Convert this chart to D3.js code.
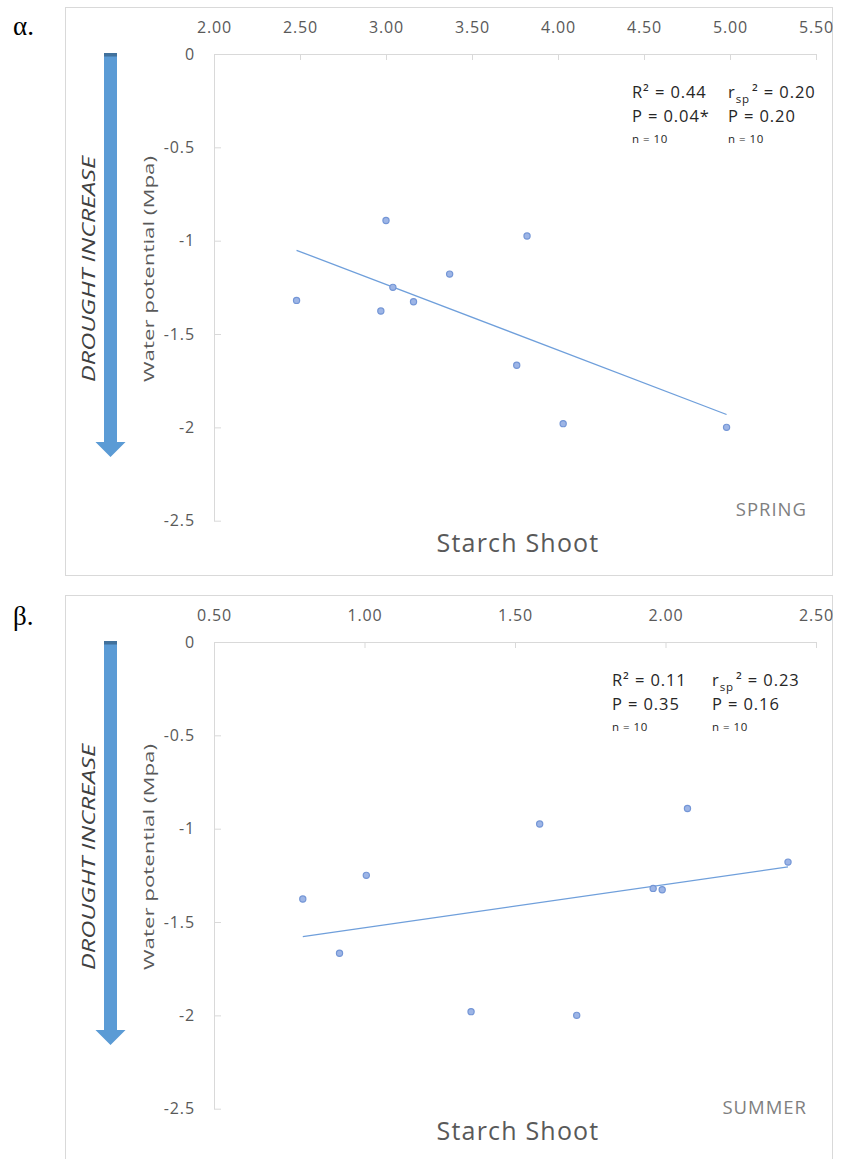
<!DOCTYPE html>
<html><head><meta charset="utf-8">
<script src="https://cdn.jsdelivr.net/npm/d3@7"></script>
<style>body{margin:0;background:#fff} svg{display:block}</style>
</head><body>
<svg id="chart" width="845" height="1159"></svg>
<script>
// Shoot starch vs. midday water potential, spring and summer
const springStarch    = [2.48, 3.00, 2.97, 3.04, 3.16, 3.37, 3.82, 3.76, 4.03, 4.98];
const springPotential = [-1.32, -0.892, -1.377, -1.25, -1.327, -1.179, -0.975, -1.667, -1.98, -2.00];
const summerStarch    = [0.795, 0.917, 1.006, 1.354, 1.582, 1.705, 1.959, 1.989, 2.073, 2.407];
const summerPotential = [-1.377, -1.667, -1.25, -1.98, -0.975, -2.00, -1.32, -1.327, -0.892, -1.179];

const springXTicks = [2.0, 2.5, 3.0, 3.5, 4.0, 4.5, 5.0, 5.5];
const summerXTicks = [0.5, 1.0, 1.5, 2.0, 2.5];
const yTicks = [0, -0.5, -1, -1.5, -2, -2.5];

// Pearson R², P, n  and  Spearman r², P, n
const springPearson  = ["0.44", "0.04*", "10"];
const springSpearman = ["0.20", "0.20", "10"];
const summerPearson  = ["0.11", "0.35", "10"];
const summerSpearman = ["0.23", "0.16", "10"];

const panelLetters = ["α.", "β."];
const seasons = ["SPRING", "SUMMER"];

const svg = d3.select("#chart");
const FONT = "'Open Sans', sans-serif";
const GREY = "#595959";
const AXIS = "#d9d9d9";
const BLUE = "#5b9bd5";

const panels = [
  { top: 54, frameTop: 7.5, frameBottom: 575.5, xs: springStarch, ys: springPotential,
    xTicks: springXTicks, pear: springPearson, spear: springSpearman,
    col1: 632, col2: 728, letter: panelLetters[0], letterY: 35,
    season: seasons[0], seasonY: 461.5 },
  { top: 642, frameTop: 595.5, frameBottom: 1170, xs: summerStarch, ys: summerPotential,
    xTicks: summerXTicks, pear: summerPearson, spear: summerSpearman,
    col1: 612, col2: 712, letter: panelLetters[1], letterY: 625,
    season: seasons[1], seasonY: 472 }
];

const LEFT = 214, RIGHT = 816, PLOT_H = 466.7;

panels.forEach(p => {
  const g = svg.append("g");

  // chart frame
  g.append("rect")
    .attr("x", 65.5).attr("y", p.frameTop)
    .attr("width", 767).attr("height", p.frameBottom - p.frameTop)
    .attr("fill", "none").attr("stroke", AXIS).attr("stroke-width", 1);

  // panel letter
  g.append("text").attr("x", 13).attr("y", p.letterY)
    .attr("font-family", "Liberation Serif, serif").attr("font-size", 27)
    .attr("fill", "#000").text(p.letter);

  const x = d3.scaleLinear()
    .domain([p.xTicks[0], p.xTicks[p.xTicks.length - 1]])
    .range([LEFT, RIGHT]);
  const y = d3.scaleLinear()
    .domain([yTicks[0], yTicks[yTicks.length - 1]])
    .range([p.top, p.top + PLOT_H]);

  // top (x) axis, ticks pointing into the plot
  const xAxis = g.append("g").attr("transform", `translate(0,${p.top})`)
    .call(d3.axisTop(x).tickValues(p.xTicks).tickFormat(d3.format(".2f"))
      .tickSizeInner(-6).tickSizeOuter(0).tickPadding(21));
  // left (y) axis
  const yAxis = g.append("g").attr("transform", `translate(${LEFT},0)`)
    .call(d3.axisLeft(y).tickValues(yTicks).tickFormat(d => String(d))
      .tickSizeInner(-7).tickSizeOuter(0).tickPadding(19));
  [xAxis, yAxis].forEach(a => {
    a.select(".domain").attr("stroke", AXIS);
    a.selectAll(".tick line").attr("stroke", AXIS);
    a.selectAll(".tick text").attr("fill", GREY)
      .attr("font-family", FONT).attr("font-size", 16).attr("letter-spacing", 0.9);
  });

  // least-squares trend line over the observed range
  const mx = d3.mean(p.xs), my = d3.mean(p.ys);
  let sxy = 0, sxx = 0;
  p.xs.forEach((v, i) => { sxy += (v - mx) * (p.ys[i] - my); sxx += (v - mx) * (v - mx); });
  const slope = sxy / sxx, icpt = my - slope * mx;
  const [xMin, xMax] = d3.extent(p.xs);
  g.append("line")
    .attr("x1", x(xMin)).attr("y1", y(icpt + slope * xMin))
    .attr("x2", x(xMax)).attr("y2", y(icpt + slope * xMax))
    .attr("stroke", "#6f9fdb").attr("stroke-width", 1.3);

  // observations
  g.selectAll("circle.pt").data(p.xs.map((v, i) => [v, p.ys[i]])).join("circle")
    .attr("class", "pt")
    .attr("cx", d => x(d[0])).attr("cy", d => y(d[1])).attr("r", 3.1)
    .attr("fill", "#9db5e6").attr("stroke", "#7496d6").attr("stroke-width", 1.2);

  // drought arrow
  const aTop = p.top - 1, aTip = p.top + 403;
  g.append("path")
    .attr("d", `M104,${aTop} H117 V${aTip - 15} H125.5 L110.5,${aTip} L95.5,${aTip - 15} H104 Z`)
    .attr("fill", BLUE);
  g.append("rect").attr("x", 104).attr("y", aTop).attr("width", 13).attr("height", 3.5)
    .attr("fill", "#41719c");

  // rotated labels
  const midY = p.top + 215;
  g.append("text")
    .attr("transform", `translate(95,${midY}) rotate(-90)`)
    .attr("text-anchor", "middle").attr("font-family", FONT)
    .attr("font-style", "italic").attr("font-size", 19).attr("fill", "#404040")
    .attr("textLength", 226).attr("lengthAdjust", "spacingAndGlyphs")
    .text("DROUGHT INCREASE");
  g.append("text")
    .attr("transform", `translate(154,${midY}) rotate(-90)`)
    .attr("text-anchor", "middle").attr("font-family", FONT)
    .attr("font-size", 15).attr("fill", GREY)
    .attr("textLength", 226).attr("lengthAdjust", "spacingAndGlyphs")
    .text("Water potential (Mpa)");

  // statistics
  const st = g.append("g").attr("font-family", FONT).attr("fill", "#262626")
    .attr("letter-spacing", 0.9);
  st.append("text").attr("x", p.col1).attr("y", p.top + 43.5).attr("font-size", 16.5)
    .text(`R² = ${p.pear[0]}`);
  st.append("text").attr("x", p.col1).attr("y", p.top + 67.5).attr("font-size", 16.5)
    .text(`P = ${p.pear[1]}`);
  st.append("text").attr("x", p.col1).attr("y", p.top + 88.5).attr("font-size", 11.5)
    .attr("letter-spacing", 0.5).text(`n = ${p.pear[2]}`);
  const rs = st.append("text").attr("x", p.col2).attr("y", p.top + 43.5).attr("font-size", 16.5);
  rs.append("tspan").text("r");
  rs.append("tspan").attr("dy", 5).attr("font-size", 11.5).text("sp");
  rs.append("tspan").attr("dy", -5).attr("dx", 2).text("²");
  rs.append("tspan").text(` = ${p.spear[0]}`);
  st.append("text").attr("x", p.col2).attr("y", p.top + 67.5).attr("font-size", 16.5)
    .text(`P = ${p.spear[1]}`);
  st.append("text").attr("x", p.col2).attr("y", p.top + 88.5).attr("font-size", 11.5)
    .attr("letter-spacing", 0.5).text(`n = ${p.spear[2]}`);

  // season and x-axis title
  g.append("text").attr("x", 807).attr("y", p.top + p.seasonY)
    .attr("text-anchor", "end").attr("font-family", FONT).attr("font-size", 18.5)
    .attr("letter-spacing", 1).attr("fill", "#7f7f7f").text(p.season);
  g.append("text").attr("x", 518).attr("y", p.top + 498)
    .attr("text-anchor", "middle").attr("font-family", FONT).attr("font-size", 25)
    .attr("letter-spacing", 1.2).attr("fill", GREY).text("Starch Shoot");
});
</script>
</body></html>
